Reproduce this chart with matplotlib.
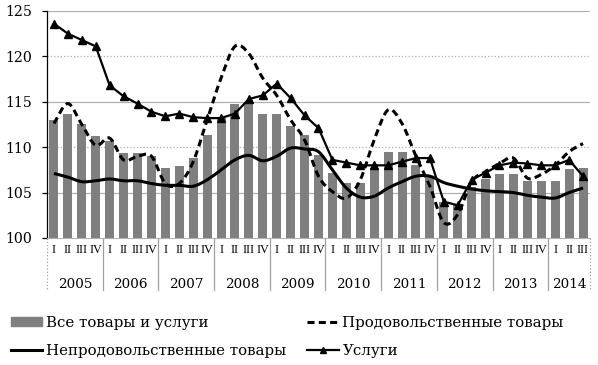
import numpy as np
import matplotlib.pyplot as plt
from matplotlib.path import Path
from matplotlib.patches import PathPatch, Patch
from matplotlib.lines import Line2D
import matplotlib.transforms as mtransforms

plt.rcParams['font.family'] = ['DejaVu Serif']

# quarterly indices, 2005 Q1 .. 2014 Q3
years = ['2005', '2006', '2007', '2008', '2009', '2010', '2011', '2012', '2013', '2014']
quarter_labels = ['I', 'II', 'III', 'IV']
n_quarters_last = 3

all_goods = [113.0, 113.7, 112.6, 111.2, 110.7, 109.4, 109.4, 109.0,
             107.7, 107.9, 108.8, 111.3, 113.2, 114.8, 115.0, 113.7,
             113.7, 112.3, 111.3, 109.1, 107.2, 106.0, 106.1, 107.7,
             109.5, 109.5, 108.0, 106.8, 104.0, 103.6, 105.6, 106.5,
             107.0, 107.1, 106.3, 106.3, 106.3, 107.6, 107.7]
food = [112.6, 114.8, 112.5, 110.2, 111.0, 108.6, 109.0, 109.0,
        106.0, 106.0, 108.4, 113.0, 117.6, 121.1, 120.3, 117.6,
        115.7, 113.0, 110.8, 106.8, 105.1, 104.4, 106.4, 110.8,
        114.1, 112.6, 109.0, 105.7, 101.7, 102.6, 106.2, 107.3,
        108.2, 108.8, 106.6, 107.0, 108.0, 109.5, 110.4]
nonfood = [107.1, 106.7, 106.2, 106.3, 106.5, 106.3, 106.3, 106.0,
           105.8, 105.8, 105.7, 106.4, 107.5, 108.6, 109.1, 108.5,
           109.0, 109.9, 109.8, 109.5, 107.5, 105.5, 104.5, 104.6,
           105.5, 106.2, 106.8, 106.8, 106.1, 105.7, 105.4, 105.2,
           105.1, 105.0, 104.7, 104.5, 104.4, 105.0, 105.5]
services = [123.6, 122.5, 121.8, 121.1, 116.8, 115.6, 114.8, 113.9,
            113.4, 113.7, 113.3, 113.2, 113.2, 113.7, 115.3, 115.7,
            117.0, 115.4, 113.5, 112.1, 108.6, 108.3, 108.0, 108.0,
            108.0, 108.4, 108.8, 108.8, 104.0, 103.6, 106.4, 107.2,
            108.0, 108.3, 108.2, 108.0, 108.0, 108.6, 106.8]


def smooth_path(x, y):
    # Catmull-Rom style bezier, like the "smoothed line" option in Excel
    pts = np.column_stack([x, y]).astype(float)
    verts = [pts[0]]
    codes = [Path.MOVETO]
    n = len(pts)
    for i in range(n - 1):
        p0 = pts[i - 1] if i > 0 else pts[i]
        p1 = pts[i]
        p2 = pts[i + 1]
        p3 = pts[i + 2] if i + 2 < n else pts[i + 1]
        verts += [p1 + (p2 - p0) / 6, p2 - (p3 - p1) / 6, p2]
        codes += [Path.CURVE4] * 3
    return Path(verts, codes)


x = np.arange(len(all_goods))
dash = (0, (2.3, 1.4))

fig = plt.figure(figsize=(5.98, 3.65), dpi=100)
ax = fig.add_axes([0.0786, 0.348, 0.908, 0.622])

ax.bar(x, all_goods, width=0.65, bottom=0, color='#7f7f7f', zorder=2)

ax.add_patch(PathPatch(smooth_path(x, food), fill=False, lw=2.2,
                       ls=dash, ec='black', zorder=3))
ax.add_patch(PathPatch(smooth_path(x, nonfood), fill=False, lw=2.2,
                       ec='black', zorder=3))
ax.plot(x, services, color='black', lw=1.6, marker='^', ms=5.5, zorder=4)

ax.set_ylim(100, 125)
ax.set_xlim(-0.5, len(all_goods) - 0.5)
ax.set_yticks([100, 105, 110, 115, 120, 125])
for v in [105, 115, 125]:
    ax.axhline(v, color='#b0b0b0', lw=0.9, zorder=1)
for v in [110, 120]:
    ax.axhline(v, color='#b0b0b0', lw=0.9, ls=':', zorder=1)

for s in ['top', 'right']:
    ax.spines[s].set_visible(False)
ax.spines['left'].set_linewidth(0.9)
ax.spines['bottom'].set_color('#b0b0b0')
ax.tick_params(axis='y', labelsize=10.2, length=3.5, width=0.9, pad=7)
ax.set_xticks([])

# category axis: quarters and years underneath
trans = mtransforms.blended_transform_factory(ax.transData, ax.transAxes)
labels = [q for y in years[:-1] for q in quarter_labels] + quarter_labels[:n_quarters_last]
for i, lab in enumerate(labels):
    ax.text(i, -0.055, lab, transform=trans, ha='center', va='center',
            fontsize=8.8, family='Liberation Serif', clip_on=False)
bounds = [-0.5]
for k, yr in enumerate(years):
    start = k * 4
    end = min(start + 4, len(all_goods))
    ax.text((start + end - 1) / 2, -0.205, yr, transform=trans, ha='center',
            va='center', fontsize=9.7, clip_on=False)
    bounds.append(end - 0.5)
for b in bounds:
    ls = ':' if b in (bounds[0], bounds[-1]) else '-'
    ax.plot([b, b], [0, -0.23], transform=trans, color='#a0a0a0', lw=0.9,
            ls=ls, clip_on=False)

handles = [Patch(color='#7f7f7f'),
           Line2D([], [], color='black', lw=2.2),
           Line2D([], [], color='black', lw=2.2, ls=dash),
           Line2D([], [], color='black', lw=1.6, marker='^', ms=5)]
names = ['Все товары и услуги', 'Непродовольственные товары',
         'Продовольственные товары', 'Услуги']
fig.legend(handles, names, loc='upper left', bbox_to_anchor=(0.018, 0.135),
           ncol=2, frameon=False, fontsize=10.8, handlelength=2.1,
           handleheight=0.55, handletextpad=0.25, columnspacing=1.4,
           labelspacing=0.95, borderaxespad=0, borderpad=0)

fig.savefig('out.png', dpi=100)
